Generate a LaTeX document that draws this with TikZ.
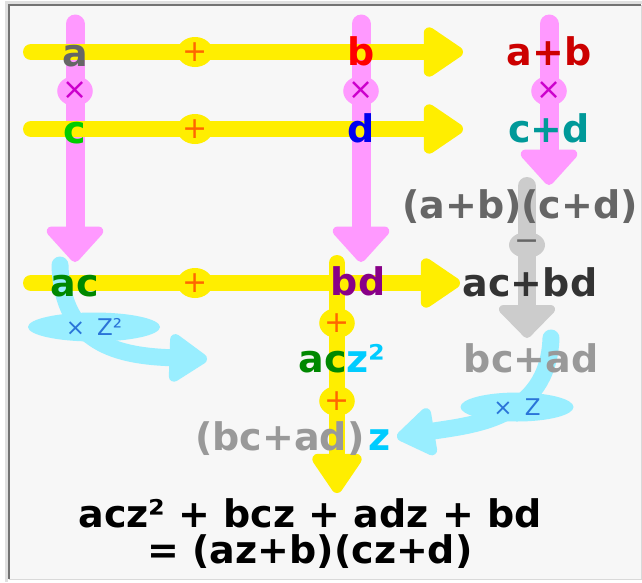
\documentclass[tikz,border=0pt]{standalone}
\usepackage{fontspec}
\usetikzlibrary{arrows.meta,shapes.geometric}

\newfontfamily\labfont{DejaVu Sans}

\definecolor{yel}{HTML}{FFEE00}
\definecolor{pinkbar}{HTML}{FF99FF}
\definecolor{graybar}{HTML}{CCCCCC}
\definecolor{cyanbar}{HTML}{99EEFF}
\definecolor{bgfill}{HTML}{F7F7F7}
\definecolor{plusorange}{HTML}{FF6600}
\definecolor{timespurple}{HTML}{CC00CC}
\definecolor{zblue}{HTML}{2A74D8}
\definecolor{acol}{HTML}{666666}
\definecolor{bcol}{HTML}{FF0000}
\definecolor{ccol}{HTML}{00CC00}
\definecolor{dcol}{HTML}{0000EE}
\definecolor{apbcol}{HTML}{CC0000}
\definecolor{cpdcol}{HTML}{009999}
\definecolor{accol}{HTML}{008800}
\definecolor{bdcol}{HTML}{880088}
\definecolor{acbdcol}{HTML}{333333}
\definecolor{bcadcol}{HTML}{999999}
\definecolor{zcol}{HTML}{00CCFF}

\begin{document}
\begin{tikzpicture}[
  x=1pt, y=-1pt,
  lab/.style={font=\labfont\bfseries\fontsize{38}{40}\selectfont, inner sep=0pt, anchor=base},
  op/.style={ellipse, inner sep=0pt, minimum width=35pt, minimum height=30pt,
    font=\labfont\fontsize{30}{30}\selectfont},
  plusop/.style={op, fill=yel, text=plusorange},
  timesop/.style={op, fill=pinkbar, text=timespurple},
  minusop/.style={op, fill=graybar, text=black!60, minimum width=36pt, minimum height=26pt},
  zlab/.style={ellipse, inner sep=0pt, fill=cyanbar, text=zblue,
    font=\labfont\fontsize{23}{23}\selectfont},
  ybar/.style={draw=yel, line width=16pt, line cap=round,
    -{Triangle[length=44pt,width=56pt,round]}},
  pbar/.style={draw=pinkbar, line width=19pt, line cap=round,
    -{Triangle[length=38pt,width=66pt,round]}},
  gbar/.style={draw=graybar, line width=18pt, line cap=round,
    -{Triangle[length=35pt,width=66pt,round]}},
  cbar/.style={draw=cyanbar, line width=17pt, line cap=round,
    -{Triangle[length=42pt,width=54pt,round]}}
]
\useasboundingbox (0,0) rectangle (642,582);

% frame
\fill[bgfill] (9,5) rectangle (641,579);
\draw[black!12, line width=3pt] (6,582) -- (6,2) -- (642,2);
\draw[black!55, line width=1.2pt] (9,579) -- (9,5) -- (641,5);
\draw[black!15, line width=0.8pt] (641,5) -- (641,579) -- (9,579);

% end points of the bars
\coordinate (p1s) at (75,24);   \coordinate (p1e) at (75,262);
\coordinate (p2s) at (361,24);  \coordinate (p2e) at (361,262);
\coordinate (p3s) at (549,24);  \coordinate (p3e) at (549,185);
\coordinate (y1s) at (31,52);   \coordinate (y1e) at (463,52);
\coordinate (y2s) at (31,129);  \coordinate (y2e) at (463,129);
\coordinate (y3s) at (31,283);  \coordinate (y3e) at (460,283);
\coordinate (y4s) at (337,263); \coordinate (y4e) at (337,493);
\coordinate (gs) at (527,186);  \coordinate (ge) at (527,338);
\coordinate (c1s) at (60,265);  \coordinate (c1e) at (207,359);
\coordinate (c2s) at (551,338); \coordinate (c2e) at (397,437);

% bars
\draw[gbar] (gs) -- (ge);
\draw[pbar] (p1s) -- (p1e);
\draw[pbar] (p2s) -- (p2e);
\draw[pbar] (p3s) -- (p3e);
\draw[ybar] (y1s) -- (y1e);
\draw[ybar] (y2s) -- (y2e);
\draw[ybar] (y3s) -- (y3e);
\draw[ybar] (y4s) -- (y4e);
\draw[cbar] (c1s) .. controls (62,345) and (120,356) .. (c1e);
\draw[cbar] (c2s) .. controls (548,420) and (470,425) .. (c2e);

% operators
\node[plusop] (plus1) at (195,52) {+};
\node[plusop] (plus2) at (195,129) {+};
\node[plusop] (plus3) at (195,283) {+};
\node[plusop] (plus4) at (337,323) {+};
\node[plusop] (plus5) at (337,401) {+};
\node[timesop] (times1) at (75,91) {×};
\node[timesop] (times2) at (361,91) {×};
\node[timesop] (times3) at (549,91) {×};
\node[minusop] (minus) at (527,245) {−};
\node[zlab, minimum width=132pt, minimum height=29pt] (zsq) at (94,327) {×\hspace{12pt}Z²};
\node[zlab, minimum width=113pt, minimum height=29pt] (zone) at (517,407) {×\hspace{12pt}Z};

% labels
\node[lab, text=acol] (a) at (75,66) {a};
\node[lab, text=bcol] (b) at (361,65) {b};
\node[lab, text=apbcol] (apb) at (549,65) {a+b};
\node[lab, text=ccol] (c) at (75,143) {c};
\node[lab, text=dcol] (d) at (361,142) {d};
\node[lab, text=cpdcol] (cpd) at (549,142) {c+d};
\node[lab, text=acol] (prod) at (520,218) {(a+b)(c+d)};
\node[lab, text=accol] (ac) at (75,296) {ac};
\node[lab, text=bdcol] (bd) at (358,295) {bd};
\node[lab, text=acbdcol] (acbd) at (530,296) {ac+bd};
\node[lab, text=bcadcol] (bcad) at (531,372) {bc+ad};
\node[lab] (acz) at (342,372) {\textcolor{accol}{ac}\textcolor{zcol}{z²}};
\node[lab] (bcadz) at (293,450) {\textcolor{bcadcol}{(bc+ad)}\hspace{4pt}\textcolor{zcol}{z}};
\node[lab] (sum) at (310,527) {acz² + bcz + adz + bd};
\node[lab] (fact) at (310,563) {= (az+b)(cz+d)};
\end{tikzpicture}
\end{document}
